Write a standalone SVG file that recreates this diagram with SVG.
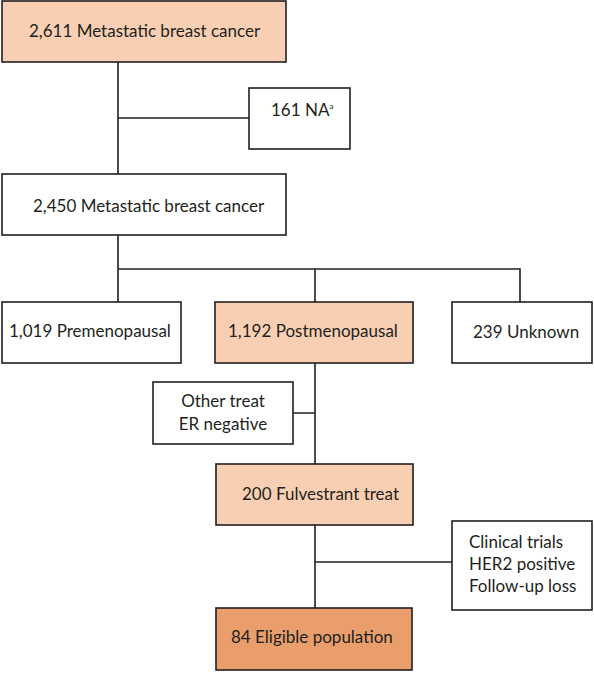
<svg xmlns="http://www.w3.org/2000/svg" width="594" height="673" viewBox="0 0 594 673">
<style>
.box{stroke:#231f20;stroke-width:1.6;fill:#ffffff}
.peach{fill:#f8cfb2}
.dark{fill:#e99e6b}
.t{font-family:Lato,"Open Sans","Liberation Sans",sans-serif;font-size:17px;fill:#231f20}
.ln{stroke:#231f20;stroke-width:1.6;fill:none}
</style>
<rect width="594" height="673" fill="#ffffff"/>
<g id="connectors">
<path class="ln" d="M118,62 V174 M118,118 H249"/>
<path class="ln" d="M118,235 V302 M118,269 H520 V302 M315,269 V302"/>
<path class="ln" d="M315,363 V464 M293,413 H315"/>
<path class="ln" d="M315,525 V608 M315,562 H452"/>
</g>
<g id="n1"><rect class="box peach" x="2" y="1" width="284" height="61"/><text class="t" x="29" y="37">2,611 Metastatic breast cancer</text></g>
<g id="n2"><rect class="box" x="249" y="88" width="101" height="61"/><text class="t" x="271" y="116">161 NA<tspan font-size="8" dy="-7">a</tspan></text></g>
<g id="n3"><rect class="box" x="2" y="174" width="284" height="61"/><text class="t" x="33" y="212">2,450 Metastatic breast cancer</text></g>
<g id="n4"><rect class="box" x="2" y="302" width="179" height="61"/><text class="t" x="9" y="337">1,019 Premenopausal</text></g>
<g id="n5"><rect class="box peach" x="215" y="302" width="198" height="61"/><text class="t" x="228" y="337">1,192 Postmenopausal</text></g>
<g id="n6"><rect class="box" x="452" y="302" width="140" height="61"/><text class="t" x="473" y="338">239 Unknown</text></g>
<g id="n7"><rect class="box" x="153" y="382" width="140" height="62"/><text class="t" x="223" y="407" text-anchor="middle">Other treat</text><text class="t" x="223" y="430" text-anchor="middle">ER negative</text></g>
<g id="n8"><rect class="box peach" x="216" y="464" width="197" height="61"/><text class="t" x="242" y="500">200 Fulvestrant treat</text></g>
<g id="n9"><rect class="box" x="452" y="521" width="140" height="89"/><text class="t" x="469" y="548">Clinical trials</text><text class="t" x="469" y="570">HER2 positive</text><text class="t" x="469" y="592">Follow-up loss</text></g>
<g id="n10"><rect class="box dark" x="216" y="608" width="196" height="62"/><text class="t" x="231" y="643">84 Eligible population</text></g>
</svg>
